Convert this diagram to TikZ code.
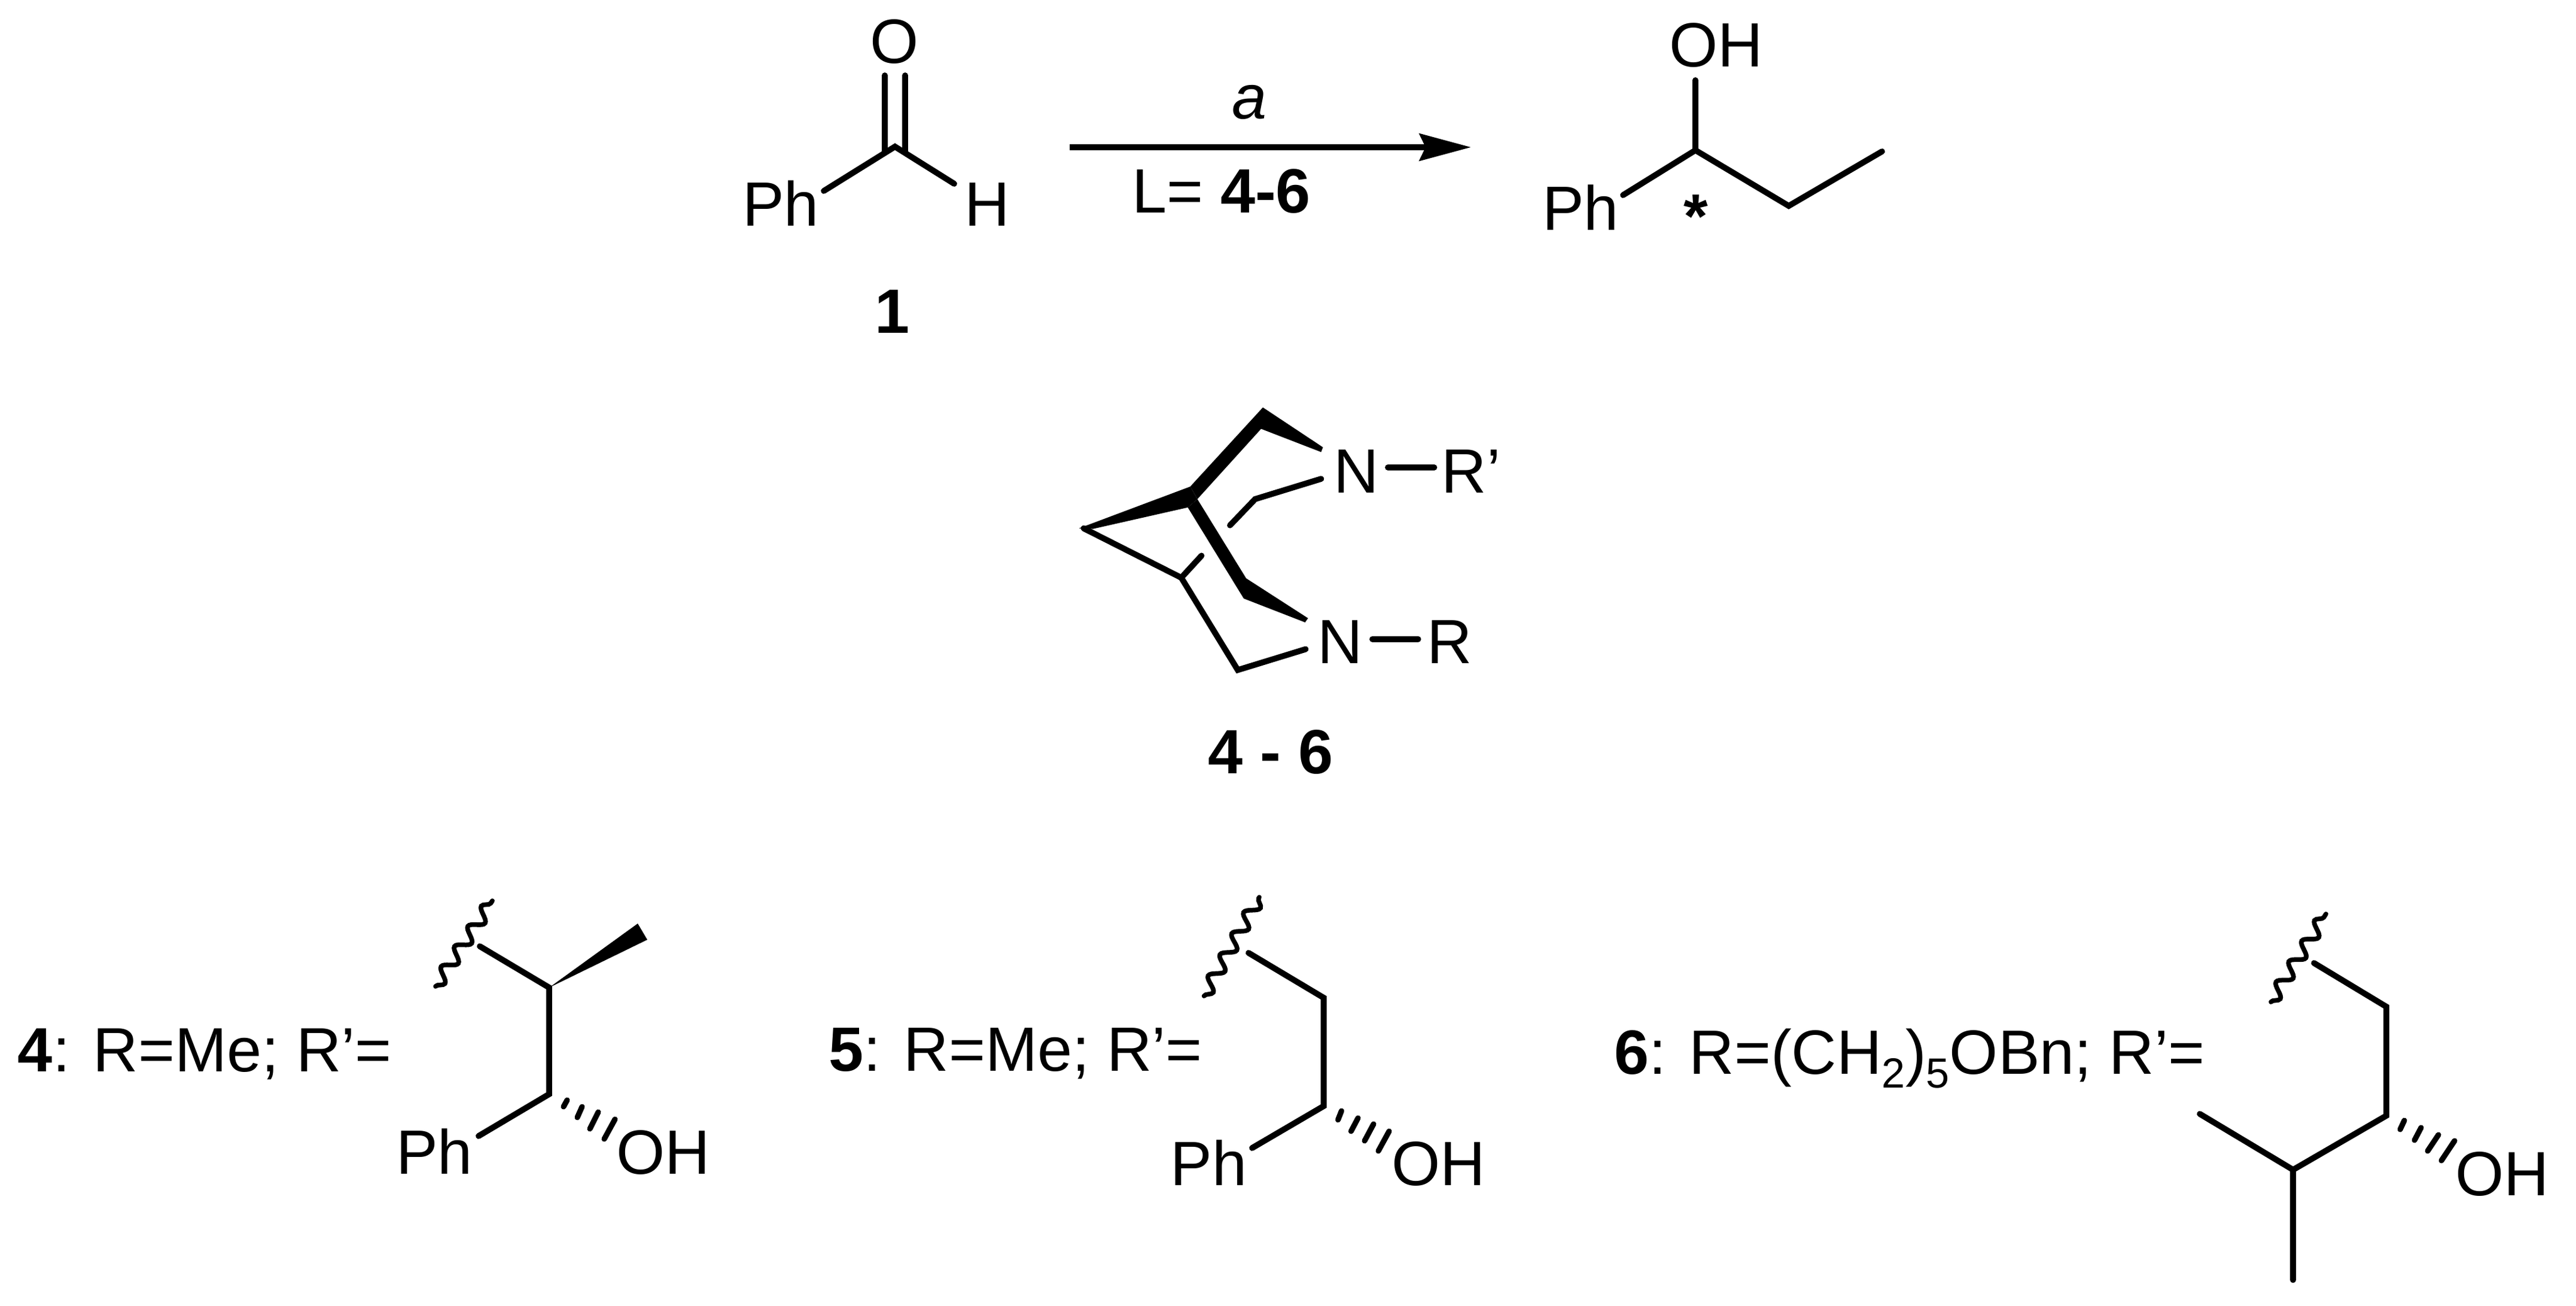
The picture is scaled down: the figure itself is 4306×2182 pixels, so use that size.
\documentclass[tikz,border=0pt]{standalone}
\usepackage{fontspec}
\setmainfont{Liberation Sans}[Ligatures=ResetAll]
\usetikzlibrary{arrows.meta,decorations.pathmorphing}
\tikzset{
  x=0.01cm,y=-0.01cm,
  lab/.style={inner sep=0pt,outer sep=0pt,anchor=base,font=\fontsize{29.7}{36}\selectfont},
  labw/.style={lab,anchor=base west},
  labb/.style={lab,font=\fontsize{29.7}{36}\selectfont\bfseries},
  bond/.style={draw=black,line width=2.8pt,line cap=round,line join=miter},
  hash/.style={draw=black,line width=2.6pt,line cap=round},
  wavy/.style={draw=black,line width=2.2pt,line cap=round,decorate,decoration={snake,segment length=11.5pt,amplitude=3pt,mirror}},
  rxn/.style={draw=black,line width=2.85pt,-{Stealth[length=24.5pt,width=12.8pt,inset=2.9pt]}}
}
\begin{document}
\begin{tikzpicture}
\useasboundingbox (0,0) rectangle (4306,2182);
% --- aldehyde 1
\node[lab] (O1) at (1495,106) {O};
\node[lab] (Ph1) at (1305,378) {Ph};
\node[lab] (H1) at (1650,378) {H};
\node[labb] (n1) at (1492,556) {1};
\coordinate (C1) at (1496,245);
\coordinate (C1a) at (1479,253);
\coordinate (C1b) at (1513,253);
\coordinate (O1a) at (1479,126);
\coordinate (O1b) at (1513,126);
\coordinate (Ph1e) at (1377,319);
\coordinate (H1e) at (1595,307);
\draw[bond] (O1a) -- (C1a);
\draw[bond] (O1b) -- (C1b);
\draw[bond] (Ph1e) -- (C1) -- (H1e);
% --- reaction arrow
\coordinate (ArrS) at (1788,246);
\coordinate (ArrE) at (2459,246);
\draw[rxn] (ArrS) -- (ArrE);
\node[lab,font=\fontsize{29.7}{36}\selectfont\itshape] (cond) at (2089,199) {a};
\node[labw] (lig) at (1892,356) {L= \textbf{4-6}};
% --- product
\node[lab] (OH2) at (2869,112) {OH};
\node[lab] (Ph2) at (2642,385) {Ph};
\node[labb] (star) at (2835,398) {*};
\coordinate (C2) at (2834,251);
\coordinate (O2e) at (2834,134);
\coordinate (Ph2e) at (2713,326);
\coordinate (C3) at (2990,344);
\coordinate (C4) at (3146,253);
\draw[bond] (O2e) -- (C2);
\draw[bond] (Ph2e) -- (C2) -- (C3) -- (C4);
% --- bicycle 4-6
\node[lab] (Nt) at (2267,823) {N};
\node[lab] (Rp) at (2459,823) {R'};
\node[lab] (Nb) at (2240,1108.5) {N};
\node[lab] (Rr) at (2423,1108.5) {R};
\node[labb] (n46) at (2124,1292.5) {4 - 6};
\fill[black] (1989.5,813) -- (2111,680.7) -- (2211.4,747.3) -- (2208.4,755.3) -- (2108,716.5) -- (2001.5,833.9) -- cycle;
\fill[black] (1803.5,882.7) -- (1989.5,813) -- (2001.5,833.9) -- (1985.5,847.8) -- (1827.3,883.6) -- cycle;
\fill[black] (1985.5,847.8) -- (2001.5,833.9) -- (2083,966.2) -- (2186.5,1032.9) -- (2181.5,1039.8) -- (2079,1000) -- cycle;
\coordinate (Bt) at (1811.4,882.7);
\coordinate (Bm) at (1974.6,965.2);
\coordinate (Bl) at (2069,1119.4);
\coordinate (Bn) at (2182.5,1084.6);
\coordinate (Bx) at (2008.4,928.4);
\coordinate (Ux) at (2056,877.7);
\coordinate (Um) at (2098,833.9);
\coordinate (Un) at (2208.4,800);
\coordinate (NtE) at (2320,781);
\coordinate (RpE) at (2397.4,781);
\coordinate (NbE) at (2294,1067.7);
\coordinate (RrE) at (2370.6,1067.7);
\draw[bond] (Bt) -- (Bm) -- (Bl) -- (Bn);
\draw[bond] (Bm) -- (Bx);
\draw[bond] (Ux) -- (Um) -- (Un);
\draw[bond] (NtE) -- (RpE);
\draw[bond] (NbE) -- (RrE);
% --- ligand 4
\node[labw] (t4) at (30,1790) {\textbf{4}: R=Me; R'=};
\node[lab] (Ph4) at (726,1961.5) {Ph};
\node[lab] (OH4) at (1109,1961.5) {OH};
\coordinate (w4a) at (728,1648);
\coordinate (w4b) at (823,1505);
\coordinate (a4) at (802,1581);
\coordinate (b4) at (918,1650);
\coordinate (c4) at (918,1828);
\coordinate (d4) at (800,1898);
\draw[wavy] (w4a) -- (w4b);
\draw[bond] (a4) -- (b4) -- (c4) -- (d4);
\fill[black] (b4) -- (1066,1543) -- (1082,1570) -- cycle;
\draw[hash] (948,1838) -- (942,1849);
\draw[hash] (973,1849) -- (965,1867);
\draw[hash] (1000,1858) -- (986,1886);
\draw[hash] (1028,1870) -- (1010,1903);
% --- ligand 5
\node[labw] (t5) at (1385,1789) {\textbf{5}: R=Me; R'=};
\node[lab] (Ph5) at (2020.6,1980) {Ph};
\node[lab] (OH5) at (2404.6,1980) {OH};
\coordinate (w5a) at (2012.6,1664);
\coordinate (w5b) at (2105,1499);
\coordinate (a5) at (2087,1592);
\coordinate (b5) at (2212.6,1667);
\coordinate (c5) at (2212.6,1848);
\coordinate (d5) at (2093,1918);
\draw[wavy] (w5a) -- (w5b);
\draw[bond] (a5) -- (b5) -- (c5) -- (d5);
\draw[hash] (2242.4,1856) -- (2236.5,1871);
\draw[hash] (2270,1868) -- (2258.4,1890);
\draw[hash] (2296,1878) -- (2281,1906);
\draw[hash] (2322,1890) -- (2304,1923);
% --- ligand 6
\node[labw] (t6) at (2698,1794) {\textbf{6}: R=(CH\raisebox{-6.7pt}{\fontsize{20}{24}\selectfont 2})\raisebox{-6.7pt}{\fontsize{20}{24}\selectfont 5}OBn; R'=};
\node[lab] (OH6) at (4183,1997) {OH};
\coordinate (w6a) at (3796,1674);
\coordinate (w6b) at (3888,1527);
\coordinate (a6) at (3868,1609);
\coordinate (b6) at (3989,1682);
\coordinate (c6) at (3989,1864);
\coordinate (d6) at (3833,1954.4);
\coordinate (e6) at (3677,1861);
\coordinate (f6) at (3833,2138.5);
\draw[wavy] (w6a) -- (w6b);
\draw[bond] (a6) -- (b6) -- (c6) -- (d6) -- (e6);
\draw[bond] (d6) -- (f6);
\draw[hash] (4019,1872) -- (4012,1887);
\draw[hash] (4047,1884) -- (4036,1905);
\draw[hash] (4076,1896) -- (4058,1923);
\draw[hash] (4103,1906) -- (4081,1939);
\end{tikzpicture}
\end{document}
